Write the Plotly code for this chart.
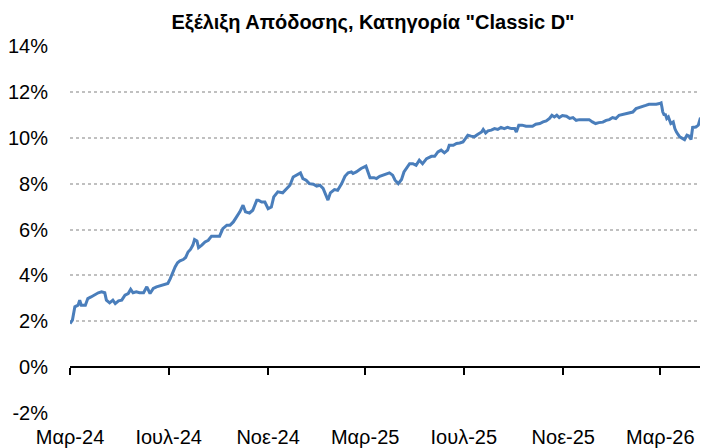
import pandas as pd
import plotly.graph_objects as go

# Days since 2024-03-01 and return (%)
day_offsets = [0, 3, 6, 10, 12, 14, 19, 22, 26, 31, 35, 39, 43, 45, 49, 53, 56, 60, 64, 68,
               72, 75, 78, 82, 86, 91, 95, 99, 103, 107, 113, 117, 121, 124, 128, 130, 133, 136, 140, 143,
               146, 149, 152, 154, 157, 159, 163, 167, 171, 175, 179, 185, 189, 194, 198, 202, 206, 210, 214, 217,
               222, 226, 231, 233, 237, 241, 245, 249, 252, 257, 263, 268, 272, 276, 280, 285, 288, 292, 296, 301,
               305, 309, 313, 317, 319, 322, 327, 331, 336, 340, 344, 348, 350, 354, 360, 366, 368, 371, 376, 379,
               383, 387, 391, 395, 399, 402, 406, 410, 413, 416, 420, 424, 428, 432, 436, 441, 447, 451, 455, 459,
               463, 467, 469, 474, 478, 482, 486, 489, 492, 496, 500, 504, 509, 511, 514, 517, 521, 525, 529, 533,
               537, 541, 546, 550, 552, 555, 559, 564, 568, 572, 576, 581, 585, 589, 593, 596, 599, 602, 605, 609,
               614, 618, 622, 626, 630, 634, 638, 642, 646, 650, 654, 659, 663, 667, 671, 675, 679, 684, 688, 692,
               696, 700, 704, 708, 712, 716, 721, 725, 729, 731, 732, 733, 735, 736, 738, 740, 743, 746, 748, 750,
               754, 757, 760, 763, 766, 768, 770, 774, 777, 779, 782, 786, 789]
returns_pct = [1.90, 2.05, 2.63, 2.70, 2.92, 2.70, 2.70, 2.99, 3.06, 3.17, 3.24, 3.28, 3.24, 2.92, 2.80, 2.92, 2.77, 2.89, 2.92, 3.14,
               3.21, 3.39, 3.24, 3.28, 3.24, 3.24, 3.50, 3.21, 3.43, 3.50, 3.57, 3.60, 3.65, 3.86, 4.23, 4.37, 4.55, 4.63, 4.69, 4.78,
               5.02, 5.13, 5.32, 5.56, 5.50, 5.21, 5.32, 5.46, 5.53, 5.71, 5.71, 5.71, 6.04, 6.19, 6.19, 6.33, 6.55, 6.77, 7.06, 6.77,
               6.72, 6.84, 7.28, 7.28, 7.20, 7.20, 6.91, 6.98, 7.42, 7.64, 7.60, 7.79, 7.93, 8.29, 8.37, 8.47, 8.22, 8.15, 8.00, 7.97,
               7.89, 7.93, 7.79, 7.42, 7.28, 7.60, 7.74, 7.71, 8.00, 8.32, 8.47, 8.51, 8.44, 8.51, 8.66, 8.76, 8.58, 8.26, 8.26, 8.22,
               8.32, 8.37, 8.41, 8.47, 8.37, 8.15, 8.00, 8.18, 8.51, 8.66, 8.87, 8.87, 8.80, 9.02, 8.87, 9.09, 9.19, 9.19, 9.38, 9.46,
               9.34, 9.46, 9.67, 9.67, 9.75, 9.77, 9.82, 9.96, 10.11, 10.07, 10.04, 10.14, 10.25, 10.36, 10.21, 10.30, 10.33, 10.40, 10.36, 10.45,
               10.40, 10.45, 10.40, 10.40, 10.25, 10.55, 10.55, 10.50, 10.50, 10.50, 10.59, 10.62, 10.69, 10.73, 10.84, 10.98, 10.91, 10.98, 10.88, 10.97,
               10.94, 10.84, 10.88, 10.76, 10.79, 10.79, 10.82, 10.79, 10.69, 10.62, 10.66, 10.68, 10.76, 10.79, 10.88, 10.84, 10.98, 11.02, 11.05, 11.08,
               11.12, 11.27, 11.31, 11.34, 11.41, 11.46, 11.45, 11.46, 11.49, 11.52, 11.34, 11.13, 10.98, 11.05, 10.84, 10.91, 10.62, 10.69, 10.40, 10.25,
               10.04, 9.96, 9.92, 10.11, 10.07, 9.92, 10.45, 10.47, 10.55, 10.79, 10.69, 10.59, 10.58]

start_date = "2024-03-01"
end_date = "2026-04-29"
tick_dates = ["2024-03-01", "2024-07-01", "2024-11-01", "2025-03-01", "2025-07-01", "2025-11-01", "2026-03-01"]
tick_labels = ["Μαρ-24", "Ιουλ-24", "Νοε-24", "Μαρ-25", "Ιουλ-25", "Νοε-25", "Μαρ-26"]
y_ticks = [-2, 0, 2, 4, 6, 8, 10, 12, 14]
y_labels = ["-2%", "0%", "2%", "4%", "6%", "8%", "10%", "12%", "14%"]
title_text = 'Εξέλιξη Απόδοσης, Κατηγορία "Classic D"'

dates = pd.Timestamp(start_date) + pd.to_timedelta(day_offsets, unit="D")

FONT = "Liberation Sans, Arial, sans-serif"

# the page body adds an 8px offset, so the figure is 700x440
W, H = 700, 440

fig = go.Figure()
# invisible copy on the overlay axis so that the 0% axis line with its ticks is drawn
fig.add_trace(go.Scatter(x=dates, y=returns_pct, mode="lines", xaxis="x2",
                         line=dict(color="rgba(0,0,0,0)", width=0), hoverinfo="skip",
                         showlegend=False))
fig.add_trace(go.Scatter(x=dates, y=returns_pct, mode="lines",
                         line=dict(color="#4a7ebb", width=3), hoverinfo="skip",
                         showlegend=False))

fig.update_layout(
    width=W, height=H,
    margin=dict(l=62, r=0, t=38, b=35, autoexpand=False),
    paper_bgcolor="white", plot_bgcolor="white",
    font=dict(family=FONT, size=20, color="black"),
    title=dict(text="<b>" + title_text + "</b>", x=365 / W, xanchor="center",
               y=1 - 14 / H, yanchor="middle", yref="container",
               font=dict(family=FONT, size=20, color="black")),
    xaxis=dict(type="date", range=[start_date, end_date], tickvals=tick_dates,
               ticktext=tick_labels, showgrid=False, showline=False, zeroline=False,
               ticks="", ticklabelstandoff=10, automargin=False, tickfont=dict(size=20)),
    xaxis2=dict(type="date", range=[start_date, end_date], tickvals=tick_dates,
                overlaying="x", anchor="free", position=0.125, side="bottom",
                showticklabels=False, showline=True, linecolor="black", linewidth=1.5,
                ticks="outside", ticklen=7, tickwidth=1.5, tickcolor="black",
                showgrid=False, zeroline=False, automargin=False),
    yaxis=dict(range=[-2, 14], tickvals=y_ticks, ticktext=y_labels, showgrid=True,
               gridcolor="#c0c0c0", gridwidth=1.5, griddash="dot", zeroline=False,
               showline=False, ticks="outside", ticklen=17, tickcolor="rgba(0,0,0,0)",
               automargin=False, tickfont=dict(size=20)),
)

fig.write_html("out.html")
